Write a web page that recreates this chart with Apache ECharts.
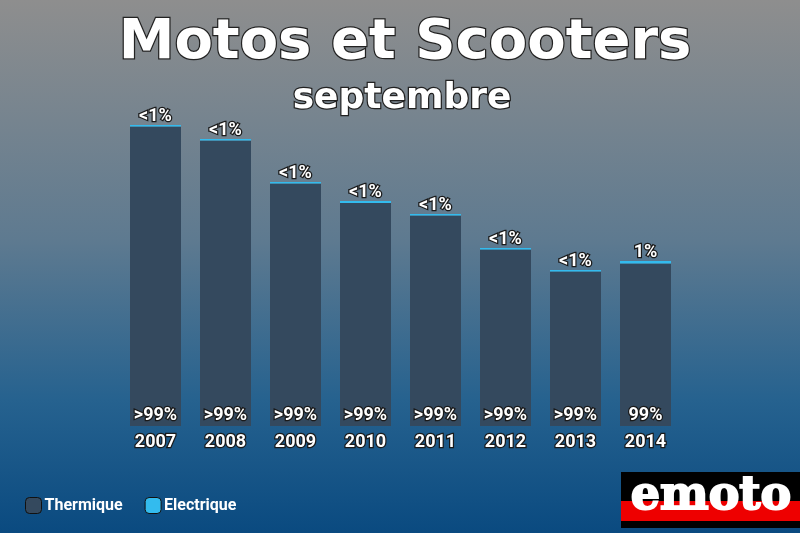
<!DOCTYPE html>
<html>
<head>
<meta charset="utf-8">
<script src="https://cdn.jsdelivr.net/npm/echarts@6/dist/echarts.min.js"></script>
<style>
html,body{margin:0;padding:0;width:800px;height:533px;overflow:hidden;}
#chart{width:800px;height:533px;}
</style>
</head>
<body>
<div id="chart"></div>
<script>
const years = ['2007','2008','2009','2010','2011','2012','2013','2014'];
const thermique = [2995, 2855, 2425, 2230, 2105, 1765, 1545, 1625];
const electrique = [15, 15, 15, 20, 15, 15, 15, 25];
const thermLabels = ['>99%','>99%','>99%','>99%','>99%','>99%','>99%','99%'];
const elecLabels = ['<1%','<1%','<1%','<1%','<1%','<1%','<1%','1%'];
const titleText = 'Motos et Scooters';
const subtitleText = 'septembre';

const chart = echarts.init(document.getElementById('chart'), null, {renderer:'canvas'});
const outline = {color:'#fff', textBorderColor:'#1a1a1a', textBorderWidth:2.5, fontFamily:'Roboto', fontWeight:'bold'};
chart.setOption({
  animation:false,
  backgroundColor:{type:'linear',x:0,y:0,x2:0,y2:1,colorStops:[
    {offset:0,color:'#8e8e8e'},
    {offset:0.45,color:'#5e7a90'},
    {offset:0.75,color:'#26628f'},
    {offset:1,color:'#0a4a80'}]},
  legend:{left:20,bottom:14,itemWidth:16,itemHeight:16,itemGap:22,
    textStyle:Object.assign({},outline,{fontSize:16,textBorderWidth:0,padding:[0,0,0,-2]}),
    data:[{name:'Thermique',itemStyle:{borderColor:'#111',borderWidth:1}},{name:'Electrique',itemStyle:{borderColor:'#111',borderWidth:1}}]},
  grid:{left:120.5,right:119.5,top:116,bottom:107},
  xAxis:{type:'category',data:years,axisLine:{show:false},axisTick:{show:false},
    axisLabel:Object.assign({},outline,{fontSize:18,margin:7})},
  yAxis:{type:'value',min:0,max:3100,show:false,splitLine:{show:false}},
  series:[
    {name:'Thermique',type:'bar',stack:'t',barWidth:51,data:thermique,
      itemStyle:{color:'#34495e'},
      label:Object.assign({},outline,{show:true,position:'insideBottom',distance:2,fontSize:18,
        formatter:p=>thermLabels[p.dataIndex]})},
    {name:'Electrique',type:'bar',stack:'t',barWidth:51,data:electrique,
      itemStyle:{color:'#33bbee'},
      label:Object.assign({},outline,{show:true,position:'top',distance:0,fontSize:18,
        formatter:p=>elecLabels[p.dataIndex]})}
  ],
  graphic:[
    {type:'text',x:405,y:43,style:{text:titleText,fill:'#fff',stroke:'#222',lineWidth:2.5,
      font:'bold 56px "DejaVu Sans"',align:'center',verticalAlign:'middle'}},
    {type:'text',x:402,y:99,style:{text:subtitleText,fill:'#fff',stroke:'#222',lineWidth:2.5,
      font:'bold 36px "DejaVu Sans"',align:'center',verticalAlign:'middle'}},
    {type:'rect',shape:{x:621,y:472,width:179,height:56},style:{fill:'#000'}},
    {type:'rect',shape:{x:621,y:501,width:179,height:20},style:{fill:'#ee0000'}},
    {type:'text',x:711,y:497,style:{text:'emoto',fill:'#fff',stroke:'#fff',lineWidth:2,
      font:'bold 46px "DejaVu Serif"',align:'center',verticalAlign:'middle'}}
  ]
});
</script>
</body>
</html>
